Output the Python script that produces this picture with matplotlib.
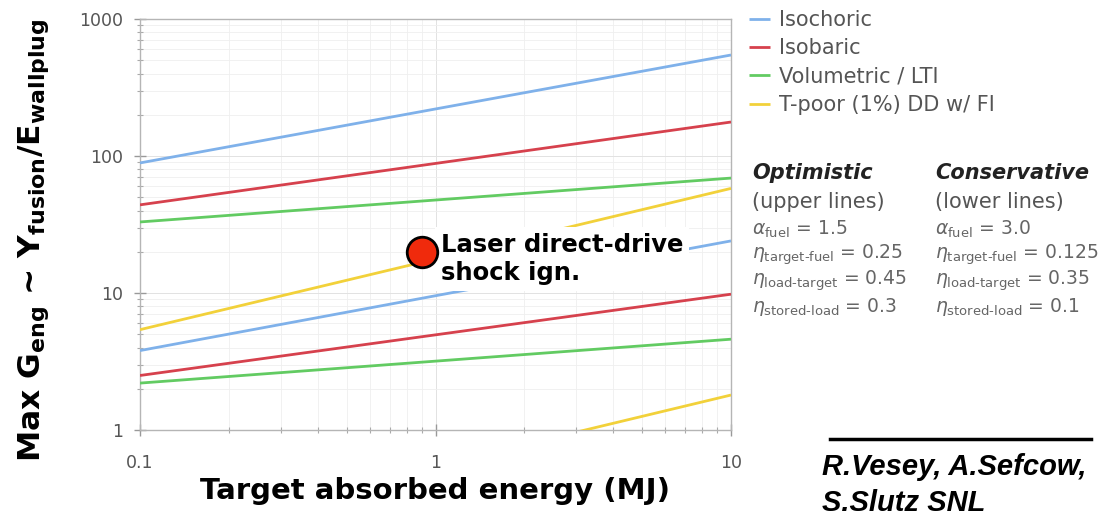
import matplotlib
matplotlib.use("Agg")
import matplotlib.pyplot as plt
from matplotlib.lines import Line2D
from matplotlib.ticker import FixedLocator, FixedFormatter, LogLocator, NullFormatter

plt.rcParams['font.family'] = ['DejaVu Sans']
plt.rcParams['mathtext.fontset'] = 'dejavusans'

# Target absorbed energy (MJ) at the ends of each gain curve
energy_mj = [0.1, 10]

series_names = ["Isochoric", "Isobaric", "Volumetric / LTI", "T-poor (1%) DD w/ FI"]
series_colors = ["#7fb1ea", "#d6414d", "#62cb62", "#f2d13a"]

# Max engineering gain, optimistic (upper) and conservative (lower) assumptions
optimistic_gain = [[89, 546], [44, 177], [33, 69], [5.4, 58]]
conservative_gain = [[3.8, 24], [2.5, 9.8], [2.2, 4.6], [0.166, 1.8]]

point_energy = 0.9
point_gain = 20
point_label = "Laser direct-drive\nshock ign."

x_ticks = [0.1, 1, 10]
x_tick_labels = ["0.1", "1", "10"]
y_ticks = [1, 10, 100, 1000]
y_tick_labels = ["1", "10", "100", "1000"]

W, H = 1105, 517
fig = plt.figure(figsize=(W / 100, H / 100), dpi=100)


def fx(px):
    return px / W


def fy(py):
    return 1 - py / H


ax = fig.add_axes([fx(140), fy(430), fx(731) - fx(140), fy(19) - fy(430)])
ax.set_xscale('log')
ax.set_yscale('log')
ax.set_xlim(0.1, 10)
ax.set_ylim(1, 1000)

for name, color, up, lo in zip(series_names, series_colors, optimistic_gain, conservative_gain):
    ax.plot(energy_mj, up, color=color, lw=2.0, solid_capstyle='butt', label=name, zorder=3)
    ax.plot(energy_mj, lo, color=color, lw=2.0, solid_capstyle='butt', zorder=3)

ax.plot([point_energy], [point_gain], 'o', ms=22, mfc='#f02a0c', mec='black', mew=2,
        zorder=6, clip_on=False)
ax.annotate(point_label, xy=(point_energy, point_gain), xytext=(19, -7),
            textcoords='offset pixels', ha='left', va='center', fontsize=17.5,
            fontweight='bold', color='black', linespacing=1.2, zorder=5,
            bbox=dict(boxstyle='square,pad=0.25', fc='white', ec='none'))

# axes styling
ax.grid(True, which='major', color='#e2e2e2', lw=0.7, zorder=0)
ax.grid(True, which='minor', color='#efefef', lw=0.6, zorder=0)
for s in ax.spines.values():
    s.set_color('#b5b5b5')
    s.set_linewidth(1.0)
ax.xaxis.set_major_locator(FixedLocator(x_ticks))
ax.xaxis.set_major_formatter(FixedFormatter(x_tick_labels))
ax.yaxis.set_major_locator(FixedLocator(y_ticks))
ax.yaxis.set_major_formatter(FixedFormatter(y_tick_labels))
ax.xaxis.set_minor_locator(LogLocator(base=10, subs=range(2, 10)))
ax.yaxis.set_minor_locator(LogLocator(base=10, subs=range(2, 10)))
ax.xaxis.set_minor_formatter(NullFormatter())
ax.yaxis.set_minor_formatter(NullFormatter())
ax.tick_params(which='major', direction='inout', length=8, width=1, color='#999999',
               labelsize=12.5, labelcolor='#555555')
ax.tick_params(which='minor', direction='inout', length=5, width=0.8, color='#aaaaaa')
ax.tick_params(axis='x', pad=13)
ax.tick_params(axis='y', pad=8)

ax.set_xlabel("Target absorbed energy (MJ)", fontsize=21, fontweight='bold', labelpad=4)
fig.text(fx(34), fy(240),
         r"Max G$_{\mathbf{eng}}$ ~ Y$_{\mathbf{fusion}}$/E$_{\mathbf{wallplug}}$",
         rotation=90, ha='center', va='center', fontsize=22.6, fontweight='bold')

# legend
fig.legend(loc='upper left', bbox_to_anchor=(fx(749), fy(10)), frameon=False,
           fontsize=15, labelcolor='#555555', handlelength=1.0, handletextpad=0.45,
           labelspacing=0.4, borderpad=0, borderaxespad=0)

# model assumptions
col_x = [752, 935]
titles = ["Optimistic", "Conservative"]
subtitles = ["(upper lines)", "(lower lines)"]
params = [
    [r"$\alpha_{\mathrm{fuel}}$ = 1.5",
     r"$\eta_{\mathrm{target\text{-}fuel}}$ = 0.25",
     r"$\eta_{\mathrm{load\text{-}target}}$ = 0.45",
     r"$\eta_{\mathrm{stored\text{-}load}}$ = 0.3"],
    [r"$\alpha_{\mathrm{fuel}}$ = 3.0",
     r"$\eta_{\mathrm{target\text{-}fuel}}$ = 0.125",
     r"$\eta_{\mathrm{load\text{-}target}}$ = 0.35",
     r"$\eta_{\mathrm{stored\text{-}load}}$ = 0.1"],
]
for cx, title, sub, plist in zip(col_x, titles, subtitles, params):
    fig.text(fx(cx), fy(173), title, fontsize=15, fontweight='bold', style='italic',
             color='#222222', ha='left', va='center')
    fig.text(fx(cx), fy(202), sub, fontsize=15, color='#555555', ha='left', va='center')
    for i, p in enumerate(plist):
        fig.text(fx(cx), fy(229 + 26 * i), p, fontsize=13.5, color='#666666',
                 ha='left', va='center')

# credit
fig.add_artist(Line2D([fx(830), fx(1091)], [fy(439), fy(439)], color='black', lw=2.5))
fig.text(fx(822), fy(467), "R.Vesey, A.Sefcow,", fontsize=21, fontweight='bold',
         style='italic', family=['Liberation Sans', 'DejaVu Sans'], ha='left', va='center')
fig.text(fx(822), fy(503), "S.Slutz SNL", fontsize=21, fontweight='bold',
         style='italic', family=['Liberation Sans', 'DejaVu Sans'], ha='left', va='center')

fig.savefig("out.png", dpi=100, facecolor='white')
